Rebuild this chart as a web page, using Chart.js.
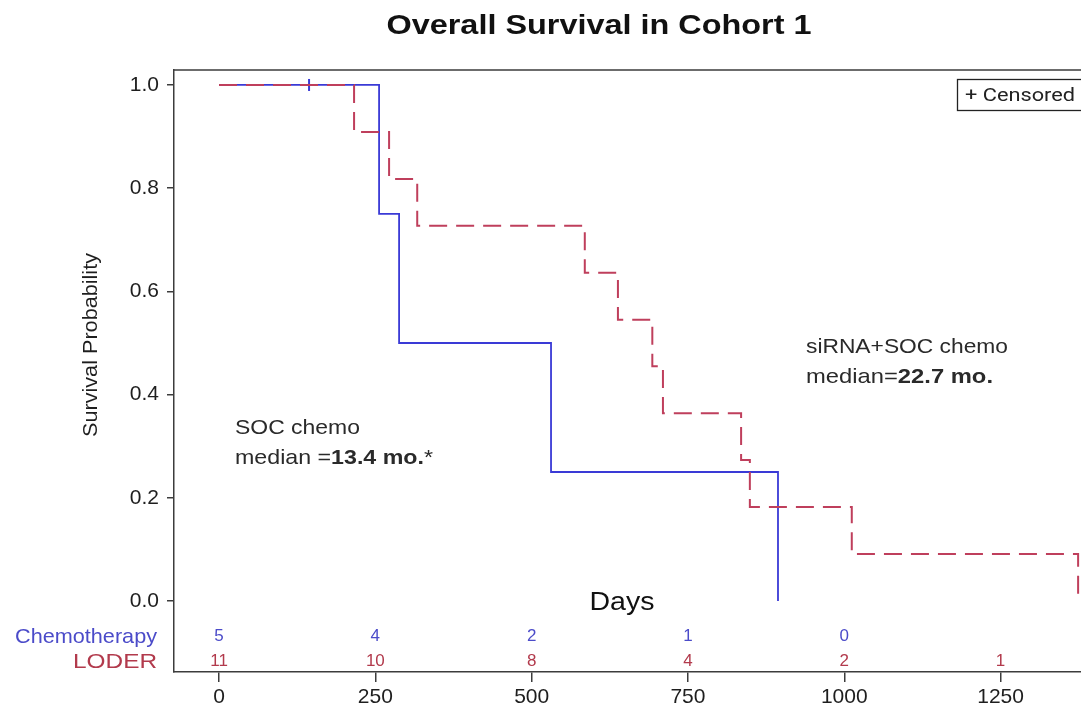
<!DOCTYPE html>
<html><head><meta charset="utf-8">
<script src="https://cdn.jsdelivr.net/npm/chart.js@4.4.0/dist/chart.umd.min.js"></script>
<style>
html,body{margin:0;padding:0;background:#fff;overflow:hidden;width:1081px;height:711px}
#wrap{position:absolute;left:0;top:0;width:1120px;height:711px}
</style></head><body>
<div id="wrap"><canvas id="c" width="1120" height="711"></canvas></div>
<script>
// ---- data ----
const chemoTimes = [0, 256, 288, 531, 894];
const chemoSurv  = [1.0, 0.75, 0.5, 0.25, 0.0];
const loderTimes = [0, 216, 272, 317, 585, 638, 693, 710, 835, 849, 1012, 1374];
const loderSurv  = [1.0, 0.909, 0.818, 0.727, 0.636, 0.545, 0.455, 0.364, 0.273, 0.182, 0.091, 0.0];
const chemoCensorTimes = [144];
const chemoCensorSurv  = [1.0];
const xTickValues = [0, 250, 500, 750, 1000, 1250];
const yTickValues = [0, 0.2, 0.4, 0.6, 0.8, 1.0];
const atRiskTimes = [0, 250, 500, 750, 1000, 1250];
const chemoAtRisk = [5, 4, 2, 1, 0, null];
const loderAtRisk = [11, 10, 8, 4, 2, 1];
const groupNames  = ['Chemotherapy', 'LODER'];
const titleText = 'Overall Survival in Cohort 1';
const yTitleText = 'Survival Probability';
const xTitleText = 'Days';

const BLUE = '#3a3ad6', RED = '#bf3f5c', BLUE_T = '#4b4bc9', RED_T = '#b23a4c', INK = '#1e1e1e', FRAME = '#3c3c3c';
const FAM = '"Liberation Sans", Arial, sans-serif';

function pts(xs, ys){ return xs.map((x,i)=>({x:x, y:ys[i]})); }

function drawFit(ctx, runs, x, y, targetW, size, align, color, family){
  ctx.save();
  ctx.fillStyle = color; ctx.textBaseline = 'alphabetic'; ctx.textAlign = 'left';
  let nat = 0;
  runs.forEach(r=>{ ctx.font = (r.b?'bold ':'') + size + 'px ' + (family||FAM); r.w = ctx.measureText(r.t).width; nat += r.w; });
  const sx = targetW ? targetW / nat : 1;
  const W = nat * sx;
  let x0 = align === 'center' ? x - W/2 : (align === 'right' ? x - W : x);
  ctx.translate(x0, y); ctx.scale(sx, 1);
  let cx = 0;
  runs.forEach(r=>{ ctx.font = (r.b?'bold ':'') + size + 'px ' + (family||FAM); ctx.fillText(r.t, cx, 0); cx += r.w; });
  ctx.restore();
}

const decor = {
  id: 'decor',
  afterDraw(chart){
    const ctx = chart.ctx, a = chart.chartArea, xs = chart.scales.x, ys = chart.scales.y;
    ctx.save();
    ctx.strokeStyle = FRAME; ctx.lineWidth = 1.5;
    ctx.beginPath(); ctx.moveTo(a.left, a.top); ctx.lineTo(a.right, a.top); ctx.lineTo(a.right, a.bottom); ctx.stroke();
    ctx.restore();
    drawFit(ctx, [{t:titleText, b:true}], 599, 34, 425, 28, 'center', '#111');
    ctx.save(); ctx.translate(97, 345); ctx.rotate(-Math.PI/2);
    drawFit(ctx, [{t:yTitleText}], 0, 0, 184, 20, 'center', INK);
    ctx.restore();
    drawFit(ctx, [{t:xTitleText}], 622, 610, 65, 26, 'center', '#111');
    drawFit(ctx, [{t:'SOC chemo'}], 235, 434, 125, 21, 'left', '#2a2a2a');
    drawFit(ctx, [{t:'median ='},{t:'13.4 mo.', b:true},{t:'*'}], 235, 464, 198, 21, 'left', '#2a2a2a');
    drawFit(ctx, [{t:'siRNA+SOC chemo'}], 806, 353, 202, 21, 'left', '#2a2a2a');
    drawFit(ctx, [{t:'median='},{t:'22.7 mo.', b:true}], 806, 383, 187, 21, 'left', '#2a2a2a');
    ctx.save(); ctx.strokeStyle = '#222'; ctx.lineWidth = 1.3;
    ctx.strokeRect(957.5, 79.5, 126, 31); ctx.restore();
    drawFit(ctx, [{t:'+ Censored'}], 965, 101, 110, 19, 'left', '#222', 'Roboto, sans-serif');
    const rowY = [ys.getPixelForValue(-0.068), ys.getPixelForValue(-0.117)];
    drawFit(ctx, [{t:groupNames[0]}], 157, rowY[0]+7, 142, 21, 'right', BLUE_T);
    drawFit(ctx, [{t:groupNames[1]}], 157, rowY[1]+7, 84, 21, 'right', RED_T);
    ctx.save();
    ctx.font = '17px ' + FAM; ctx.textAlign = 'center'; ctx.textBaseline = 'middle';
    atRiskTimes.forEach((t,i)=>{
      const px = xs.getPixelForValue(t);
      if (chemoAtRisk[i] !== null){ ctx.fillStyle = BLUE_T; ctx.fillText(String(chemoAtRisk[i]), px, rowY[0]); }
      if (loderAtRisk[i] !== null){ ctx.fillStyle = RED_T; ctx.fillText(String(loderAtRisk[i]), px, rowY[1]); }
    });
    ctx.restore();
  }
};

new Chart(document.getElementById('c'), {
  type: 'line',
  data: {
    datasets: [
      { label: 'LODER', data: pts(loderTimes, loderSurv), borderColor: RED, borderWidth: 2, borderDash: [18, 9],
        stepped: true, pointRadius: 0, fill: false },
      { label: 'Chemotherapy', data: pts(chemoTimes, chemoSurv), borderColor: BLUE, borderWidth: 1.8,
        stepped: true, pointRadius: 0, fill: false },
      { label: 'Censored', data: pts(chemoCensorTimes, chemoCensorSurv), showLine: false, pointStyle: 'line',
        rotation: 90, pointRadius: 6, pointBorderWidth: 2, pointBorderColor: BLUE, borderColor: BLUE }
    ]
  },
  options: {
    responsive: false, animation: false, events: [],
    layout: { padding: { top: 70, right: 20, left: 0, bottom: 0 } },
    plugins: { legend: { display: false }, tooltip: { enabled: false }, title: { display: false } },
    scales: {
      x: {
        type: 'linear', min: -72, max: 1409,
        afterBuildTicks: s => { s.ticks = xTickValues.map(v=>({value:v})); },
        afterFit: s => { s.height = 39; },
        ticks: { color: INK, font: { family: FAM, size: 21 }, padding: 3, callback: v => String(v), maxRotation: 0 },
        grid: { drawOnChartArea: false, drawTicks: true, tickLength: 10, color: FRAME, lineWidth: 1.5 },
        border: { display: true, color: FRAME, width: 1.5 }
      },
      y: {
        type: 'linear', min: -0.1376, max: 1.029,
        afterBuildTicks: s => { s.ticks = yTickValues.map(v=>({value:v})); },
        afterFit: s => { s.width = 174; },
        ticks: { color: INK, font: { family: FAM, size: 21 }, padding: 8, callback: v => Number(v).toFixed(1) },
        grid: { drawOnChartArea: false, drawTicks: true, tickLength: 7, color: FRAME, lineWidth: 1.5 },
        border: { display: true, color: FRAME, width: 1.5 }
      }
    }
  },
  plugins: [decor]
});
</script>
</body></html>
